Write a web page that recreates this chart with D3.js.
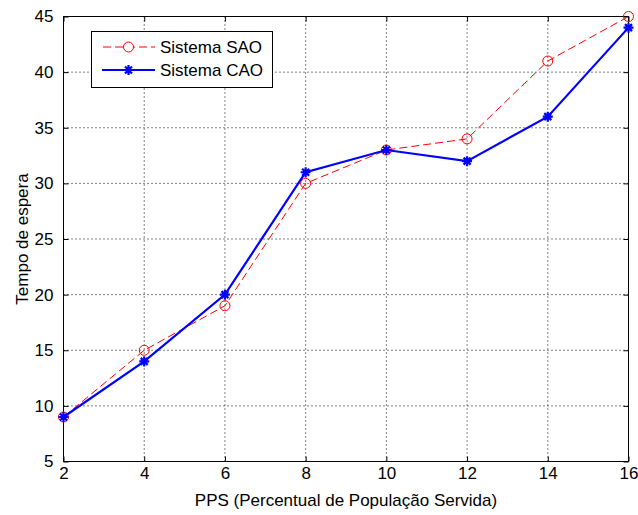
<!DOCTYPE html>
<html><head><meta charset="utf-8">
<script src="https://cdn.jsdelivr.net/npm/d3@7"></script>
<style>body{margin:0;background:#fff}text{font-family:"Liberation Sans",Arial,sans-serif}</style>
</head><body>
<svg id="c" width="638" height="515"></svg>
<script>
const xValues = [2, 4, 6, 8, 10, 12, 14, 16];
const saoValues = [9, 15, 19, 30, 33, 34, 41, 45];
const caoValues = [9, 14, 20, 31, 33, 32, 36, 44];
const xTicks = [2, 4, 6, 8, 10, 12, 14, 16];
const yTicks = [5, 10, 15, 20, 25, 30, 35, 40, 45];
const seriesNames = ["Sistema SAO", "Sistema CAO"];

const FS = 17;
const svg = d3.select("#c");
const L = 63.5, R = 628.5, T = 16.5, B = 461.5;
const x = d3.scaleLinear().domain([2, 16]).range([L, R]);
const y = d3.scaleLinear().domain([5, 45]).range([B, T]);

// grid
const g = svg.append("g");
xTicks.slice(1, -1).forEach(v => g.append("line").attr("x1", x(v)).attr("x2", x(v)).attr("y1", T).attr("y2", B)
  .attr("stroke", "#000").attr("stroke-width", 1).attr("stroke-dasharray", "1,3"));
yTicks.slice(1, -1).forEach(v => g.append("line").attr("x1", L).attr("x2", R).attr("y1", y(v)).attr("y2", y(v))
  .attr("stroke", "#000").attr("stroke-width", 1).attr("stroke-dasharray", "1,3"));

// axes
const ax = d3.axisBottom(x).tickValues(xTicks).tickSize(-5).tickPadding(5).tickFormat(d3.format("d"));
const ay = d3.axisLeft(y).tickValues(yTicks).tickSize(-5).tickPadding(10).tickFormat(d3.format("d"));
const axT = d3.axisTop(x).tickValues(xTicks).tickSize(-5).tickFormat("");
const ayR = d3.axisRight(y).tickValues(yTicks).tickSize(-5).tickFormat("");
function style(sel) {
  sel.select(".domain").remove();
  sel.selectAll("line").attr("stroke", "#000");
  sel.selectAll("text").attr("font-size", FS).attr("fill", "#000");
}
svg.append("g").attr("transform", `translate(0,${B})`).call(ax).call(style);
svg.append("g").attr("transform", `translate(${L},0)`).call(ay).call(style);
svg.append("g").attr("transform", `translate(0,${T})`).call(axT).call(style);
svg.append("g").attr("transform", `translate(${R},0)`).call(ayR).call(style);
svg.append("rect").attr("x", L).attr("y", T).attr("width", R - L).attr("height", B - T)
  .attr("fill", "none").attr("stroke", "#000").attr("stroke-width", 1);

// labels
svg.append("text").attr("x", (L + R) / 2).attr("y", 506).attr("text-anchor", "middle")
  .attr("font-size", FS).text("PPS (Percentual de População Servida)");
svg.append("text").attr("transform", `translate(28,${(T + B) / 2}) rotate(-90)`).attr("text-anchor", "middle")
  .attr("font-size", FS).text("Tempo de espera");

const line = d3.line().x((d, i) => x(xValues[i])).y(d => y(d));
const starPath = "M-5,0L5,0M0,-5L0,5M-3.5,-3.5L3.5,3.5M-3.5,3.5L3.5,-3.5";

// SAO
svg.append("path").datum(saoValues).attr("d", line).attr("fill", "none")
  .attr("stroke", "#ff0000").attr("stroke-width", 1).attr("stroke-dasharray", "8,4");
svg.selectAll(".sao").data(saoValues).enter().append("circle")
  .attr("cx", (d, i) => x(xValues[i])).attr("cy", d => y(d)).attr("r", 5)
  .attr("fill", "none").attr("stroke", "#ff0000").attr("stroke-width", 1);

// CAO
svg.append("path").datum(caoValues).attr("d", line).attr("fill", "none")
  .attr("stroke", "#0000ff").attr("stroke-width", 2.2);
svg.selectAll(".cao").data(caoValues).enter().append("path")
  .attr("transform", (d, i) => `translate(${x(xValues[i])},${y(d)})`).attr("d", starPath)
  .attr("stroke", "#0000ff").attr("stroke-width", 2.2).attr("fill", "none");

// legend
const lg = svg.append("g");
lg.append("rect").attr("x", 91.5).attr("y", 31.5).attr("width", 181).attr("height", 56)
  .attr("fill", "#fff").attr("stroke", "#000").attr("stroke-width", 1);
const rows = [47, 70];
lg.append("line").attr("x1", 102).attr("x2", 155).attr("y1", rows[0]).attr("y2", rows[0])
  .attr("stroke", "#ff0000").attr("stroke-dasharray", "8,4").attr("stroke-dashoffset", -1);
lg.append("circle").attr("cx", 128.5).attr("cy", rows[0]).attr("r", 5).attr("fill", "#fff").attr("stroke", "#ff0000");
lg.append("line").attr("x1", 102).attr("x2", 155).attr("y1", rows[1]).attr("y2", rows[1])
  .attr("stroke", "#0000ff").attr("stroke-width", 2.2);
lg.append("path").attr("transform", `translate(128.5,${rows[1]})`).attr("d", starPath)
  .attr("stroke", "#0000ff").attr("stroke-width", 2.2);
seriesNames.forEach((n, i) => lg.append("text").attr("x", 160).attr("y", rows[i] + 6)
  .attr("font-size", FS).text(n));
</script>
</body></html>
